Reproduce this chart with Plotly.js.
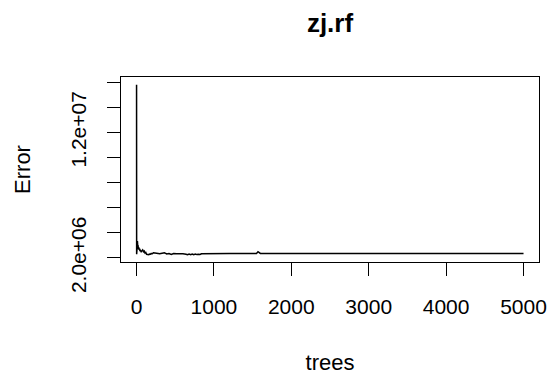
<!DOCTYPE html>
<html>
<head>
<meta charset="utf-8">
<script src="https://cdn.plot.ly/plotly-3.0.1.min.js"></script>
<style>html,body{margin:0;padding:0;background:#fff;}#chart{width:550px;height:376px;}</style>
</head>
<body>
<div id="chart"></div>
<script>
var chartTitle = "zj.rf";
var xLabel = "trees";
var yLabel = "Error";
var trees = [1,2,3,4,5,6,7,8,9,10,12,14,16,18,20,25,30,35,40,45,50,60,70,80,90,100,110,120,130,140,150,160,170,180,190,200,220,240,260,280,300,330,360,390,420,450,480,520,560,600,640,660,680,700,720,740,760,780,800,820,840,900,1000,1200,1400,1550,1570,1580,1600,1800,2200,3000,4000,5000];
var errors = [15.8e6,2.3e6,3.75e6,3.2e6,3.7e6,3.1e6,3.6e6,2.9e6,3.5e6,3.0e6,3.35e6,2.85e6,3.15e6,2.8e6,3.0e6,2.7e6,2.85e6,2.65e6,2.75e6,2.55e6,2.6e6,2.5e6,2.55e6,2.65e6,2.5e6,2.55e6,2.4e6,2.45e6,2.3e6,2.28e6,2.3e6,2.27e6,2.32e6,2.3e6,2.36e6,2.33e6,2.42e6,2.38e6,2.35e6,2.36e6,2.34e6,2.37e6,2.42e6,2.32e6,2.36e6,2.28e6,2.35e6,2.34e6,2.35e6,2.34e6,2.3e6,2.26e6,2.31e6,2.27e6,2.32e6,2.26e6,2.31e6,2.27e6,2.3e6,2.28e6,2.34e6,2.35e6,2.35e6,2.35e6,2.35e6,2.36e6,2.5e6,2.45e6,2.36e6,2.35e6,2.35e6,2.35e6,2.35e6,2.35e6];
var xTickVals = [0,1000,2000,3000,4000,5000];
var xTickText = ["0","1000","2000","3000","4000","5000"];
var yTickVals = [2e6,4e6,6e6,8e6,10e6,12e6,14e6,16e6];
var yTickText = ["2.0e+06","","","","","1.2e+07","",""];

var font = "Liberation Sans, Arial, sans-serif";
var trace = {
  x: trees, y: errors, type: "scatter", mode: "lines",
  line: {color: "#000", width: 1.5}, hoverinfo: "skip"
};
var layout = {
  width: 550, height: 376,
  margin: {l: 121, r: 11, t: 77, b: 114},
  paper_bgcolor: "#fff", plot_bgcolor: "#fff",
  showlegend: false,
  font: {family: font, size: 21, color: "#000"},
  title: {text: "<b>" + chartTitle + "</b>", x: 0.5, xref: "paper", xanchor: "center", y: 0.94, yref: "container", yanchor: "middle", font: {family: font, size: 26, color: "#000"}},
  xaxis: {
    range: [-200, 5200], tickmode: "array", tickvals: xTickVals, ticktext: xTickText,
    ticks: "outside", ticklen: 13, tickwidth: 1, tickcolor: "#000",
    showline: true, linecolor: "#000", linewidth: 1, mirror: true,
    showgrid: false, zeroline: false, ticklabelstandoff: 13,
    title: {text: xLabel, standoff: 37, font: {family: font, size: 22}}
  },
  yaxis: {
    range: [1.68e6, 16.42e6], tickmode: "array", tickvals: yTickVals, ticktext: yTickText,
    ticks: "outside", ticklen: 13, tickwidth: 1, tickcolor: "#000", tickangle: -90,
    showline: true, linecolor: "#000", linewidth: 1, mirror: true,
    showgrid: false, zeroline: false, ticklabelstandoff: 13,
    title: {text: yLabel, standoff: 29, font: {family: font, size: 22}}
  }
};
Plotly.newPlot("chart", [trace], layout, {displayModeBar: false, staticPlot: true});
</script>
</body>
</html>
